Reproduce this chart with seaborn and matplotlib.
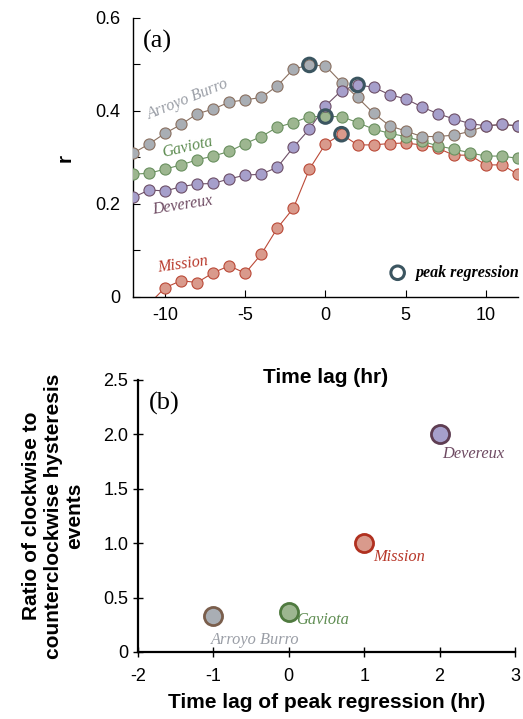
import numpy as np
import pandas as pd
import matplotlib
matplotlib.use("Agg")
import matplotlib.pyplot as plt
import seaborn as sns

# ---- data -------------------------------------------------------------
lags = list(range(-12, 13))

arroyo_burro = [0.309, 0.329, 0.352, 0.371, 0.394, 0.404, 0.419, 0.424, 0.429, 0.454, 0.490, 0.499,
                0.497, 0.461, 0.429, 0.395, 0.368, 0.357, 0.345, 0.345, 0.348, 0.356, 0.368, 0.371, 0.368]
gaviota = [0.264, 0.266, 0.275, 0.284, 0.295, 0.303, 0.313, 0.330, 0.345, 0.365, 0.375, 0.388,
           0.388, 0.388, 0.375, 0.361, 0.352, 0.345, 0.335, 0.325, 0.318, 0.310, 0.303, 0.303, 0.298]
devereux = [0.214, 0.230, 0.228, 0.237, 0.243, 0.244, 0.254, 0.262, 0.264, 0.279, 0.322, 0.361,
            0.411, 0.444, 0.456, 0.451, 0.435, 0.426, 0.409, 0.394, 0.383, 0.373, 0.368, 0.371, 0.368]
mission = [np.nan, -0.015, 0.020, 0.035, 0.031, 0.052, 0.067, 0.051, 0.092, 0.148, 0.191, 0.275,
           0.329, 0.350, 0.327, 0.327, 0.330, 0.331, 0.327, 0.320, 0.305, 0.305, 0.284, 0.284, 0.264]

sites = ["Arroyo Burro", "Gaviota", "Devereux", "Mission"]
peak_lag = [-1, 0, 2, 1]
cw_ccw_ratio = [0.33, 0.37, 2.0, 1.0]

# ---- styling ----------------------------------------------------------
fill = {"Arroyo Burro": "#a9aeb4", "Gaviota": "#9db690", "Devereux": "#a69fcb", "Mission": "#d99a8c"}
edge = {"Arroyo Burro": "#8a7060", "Gaviota": "#6a9060", "Devereux": "#6e5068", "Mission": "#bb4a38"}
edge_b = {"Arroyo Burro": "#7a5e4c", "Gaviota": "#4f7a3f", "Devereux": "#5e3d52", "Mission": "#b0301f"}
label_col = {"Arroyo Burro": "#9a9ea6", "Gaviota": "#5f8d52", "Devereux": "#6e4a62", "Mission": "#b8382a"}
ring_col = "#3b5560"

sns.set_style("ticks")
plt.rcParams["font.family"] = ["Liberation Sans", "DejaVu Sans"]
plt.rcParams["axes.unicode_minus"] = False
for key in ["text.color", "axes.labelcolor", "xtick.color", "ytick.color", "axes.edgecolor"]:
    plt.rcParams[key] = "black"
serif = ["Liberation Serif", "DejaVu Serif"]

df = pd.DataFrame({
    "lag": lags * 4,
    "r": arroyo_burro + gaviota + devereux + mission,
    "site": sum([[s] * len(lags) for s in sites], []),
})
peaks = pd.DataFrame({"site": sites, "lag": peak_lag, "ratio": cw_ccw_ratio})
peaks["r"] = [df[(df.site == s) & (df.lag == l)]["r"].iloc[0] for s, l in zip(sites, peak_lag)]

fig = plt.figure(figsize=(5.23, 7.19), dpi=100)
ax1 = fig.add_axes([0.2543, 0.587, 0.736, 0.388])
ax2 = fig.add_axes([0.2639, 0.0932, 0.7208, 0.3783])
ax2.patch.set_visible(False)

# ---- panel (a): correlation vs time lag --------------------------------
draw_order = ["Mission", "Gaviota", "Arroyo Burro", "Devereux"]
for z, s in enumerate(draw_order):
    sub = df[df.site == s]
    sns.lineplot(data=sub, x="lag", y="r", ax=ax1, color=edge[s], lw=0.8, zorder=2 + 2 * z)
    sns.scatterplot(data=sub, x="lag", y="r", ax=ax1, color=fill[s], edgecolor=edge[s],
                    linewidth=0.8, s=64, zorder=3 + 2 * z)
sns.scatterplot(data=peaks, x="lag", y="r", ax=ax1, facecolor="none", edgecolor=ring_col,
                linewidth=2.2, s=95, zorder=20)

ax1.set_xlim(-12, 12)
ax1.set_ylim(0, 0.6)
ax1.set_xticks([-10, -5, 0, 5, 10])
ax1.set_yticks([0, 0.2, 0.4, 0.6])
ax1.set_yticklabels(["0", "0.2", "0.4", "0.6"])
ax1.set_yticks([0.1, 0.3, 0.5], minor=True)
ax1.tick_params(axis="both", which="both", direction="in", length=5, width=0.8, labelsize=13)
ax1.tick_params(axis="x", pad=7)
ax1.tick_params(axis="y", pad=9)
ax1.set_xlabel("Time lag (hr)", fontsize=15, fontweight="bold", labelpad=32)
ax1.set_ylabel("r", fontsize=15, fontweight="bold", labelpad=15)
sns.despine(ax=ax1)
for sp in ax1.spines.values():
    sp.set_linewidth(1.0)

ax1.text(-11.4, 0.55, "(a)", family=serif, fontsize=19, va="center", ha="left")
series_labels = [("Arroyo Burro", -8.6, 0.424, 22), ("Gaviota", -8.6, 0.321, 13),
                 ("Devereux", -8.9, 0.198, 9), ("Mission", -8.9, 0.069, 8)]
for s, x, y, rot in series_labels:
    ax1.text(x, y, s, family=serif, style="italic", fontsize=11.5, color=label_col[s],
             rotation=rot, ha="center", va="center")

ax1.scatter([4.5], [0.052], s=95, facecolor="none", edgecolor=ring_col, linewidth=2.2, zorder=20)
ax1.text(5.6, 0.052, "peak regression", family=serif, style="italic", fontweight="bold",
         fontsize=11.5, va="center", ha="left", clip_on=False)

# ---- panel (b): hysteresis ratio vs peak lag ---------------------------
for s in sites:
    row = peaks[peaks.site == s]
    sns.scatterplot(data=row, x="lag", y="ratio", ax=ax2, color=fill[s], edgecolor=edge_b[s],
                    linewidth=2.0, s=170, zorder=5, clip_on=False)

b_labels = [("Arroyo Burro", -1.03, 0.11, "left"), ("Gaviota", 0.1, 0.29, "left"),
            ("Mission", 1.12, 0.87, "left"), ("Devereux", 2.04, 1.82, "left")]
for s, x, y, ha in b_labels:
    ax2.text(x, y, s, family=serif, style="italic", fontsize=11.8, color=label_col[s],
             ha=ha, va="center")

ax2.set_xlim(-2, 3)
ax2.set_ylim(0, 2.5)
ax2.set_xticks([-2, -1, 0, 1, 2, 3])
ax2.set_yticks([0, 0.5, 1.0, 1.5, 2.0, 2.5])
ax2.set_yticklabels(["0", "0.5", "1.0", "1.5", "2.0", "2.5"])
ax2.tick_params(axis="both", direction="inout", length=7, width=1.0, labelsize=13)
ax2.tick_params(axis="x", pad=8)
ax2.set_xlabel("Time lag of peak regression (hr)", fontsize=15, fontweight="bold", labelpad=6)
ax2.set_ylabel("Ratio of clockwise to\ncounterclockwise hysteresis\nevents", fontsize=15,
               fontweight="bold", labelpad=14, linespacing=1.15)
sns.despine(ax=ax2)
for sp in ax2.spines.values():
    sp.set_linewidth(1.6)
ax2.text(-1.85, 2.28, "(b)", family=serif, fontsize=19, va="center", ha="left")

fig.savefig("out.png", dpi=100)
